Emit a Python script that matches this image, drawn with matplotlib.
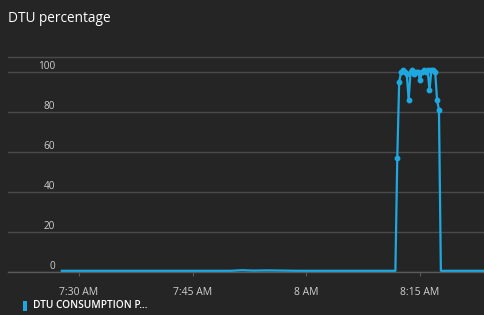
import matplotlib
matplotlib.use("Agg")
import matplotlib.pyplot as plt
import matplotlib.transforms as mtransforms
import matplotlib.patches as mpatches

# ---- data ----
base_times = ["7:27:45", "7:30:00", "7:33:00", "7:36:00", "7:39:00", "7:42:00", "7:45:00",
              "7:48:00", "7:50:00", "7:51:30", "7:53:00", "7:55:00", "7:57:00", "7:59:00",
              "8:02:00", "8:05:00", "8:08:00", "8:10:00", "8:11:45"]
base_values = [0.6, 0.6, 0.6, 0.6, 0.6, 0.6, 0.6,
               0.6, 0.6, 0.9, 0.7, 0.8, 0.7, 0.6,
               0.6, 0.6, 0.6, 0.6, 0.6]

peak_times = ["8:12:00", "8:12:15", "8:12:30", "8:12:45", "8:13:00", "8:13:15", "8:13:30",
              "8:13:45", "8:14:00", "8:14:15", "8:14:30", "8:14:45", "8:15:00", "8:15:15",
              "8:15:30", "8:15:45", "8:16:00", "8:16:15", "8:16:30", "8:16:45", "8:17:00",
              "8:17:15", "8:17:30"]
peak_values = [57, 95, 100, 101, 100, 99, 86,
               100, 101, 99, 100, 100, 96, 100,
               101, 100, 101, 91, 101, 101, 100,
               86, 81]

tail_times = ["8:17:45", "8:19:00", "8:21:00", "8:23:30"]
tail_values = [0.6, 0.6, 0.6, 0.6]

y_ticks = [0, 20, 40, 60, 80, 100]
x_tick_times = ["7:30:00", "7:45:00", "8:00:00", "8:15:00"]
x_tick_labels = ["7:30 AM", "7:45 AM", "8 AM", "8:15 AM"]
title = "DTU percentage"
legend_label = "DTU CONSUMPTION P..."


def to_min(t):
    h, m, s = (int(v) for v in t.split(":"))
    return (h - 7) * 60 + m + s / 60.0


times = [to_min(t) for t in base_times + peak_times + tail_times]
values = base_values + peak_values + tail_values
peak_x = [to_min(t) for t in peak_times]

# ---- style ----
BG = "#252525"
GRID = "#4a4a4a"
TXT = "#cfcfcf"
LINE = "#1fa8e0"
FONT = "Open Sans"

W, H = 484, 315
fig = plt.figure(figsize=(W / 100, H / 100), dpi=100, facecolor=BG)
ax = fig.add_axes([8 / W, (H - 272) / H, (W - 8) / W, (272 - 57) / H], facecolor=BG)

ax.plot(times, values, color=LINE, lw=1.6, solid_joinstyle="round", zorder=3)
ax.plot(peak_x, peak_values, "o", color=LINE, ms=3.2, zorder=4)

ax.set_xlim(20.65, 83.44)
ax.set_ylim(0, 107.5)

for s in ["left", "right"]:
    ax.spines[s].set_visible(False)
ax.spines["top"].set_color(GRID)
ax.spines["bottom"].set_color("#5a5a5a")
ax.spines["top"].set_linewidth(1)
ax.spines["bottom"].set_linewidth(1)

ax.set_yticks(y_ticks)
ax.yaxis.grid(True, color=GRID, lw=1)
ax.tick_params(axis="y", length=0, labelleft=False)

# y labels sitting above the grid lines
trans = mtransforms.blended_transform_factory(ax.transAxes, ax.transData)
off = mtransforms.ScaledTranslation(0, 3 / 100, fig.dpi_scale_trans)
for v in y_ticks:
    ax.text((55 - 8) / (W - 8), v, str(v), transform=trans + off, ha="right", va="baseline",
            color=TXT, fontsize=7.2, family=FONT)

ax.set_xticks([to_min(t) for t in x_tick_times])
ax.set_xticklabels(x_tick_labels)
ax.tick_params(axis="x", length=3, width=0.8, color="#5a5a5a", colors=TXT, pad=8, labelsize=7.5)
for lbl in ax.get_xticklabels():
    lbl.set_family(FONT)
    lbl.set_color(TXT)

fig.text(8 / W, 1 - 19 / H, title, color="white", fontsize=9.8, family=FONT, va="center", ha="left")

fig.patches.append(mpatches.Rectangle((23 / W, 1 - 311 / H), 4 / W, 10 / H, transform=fig.transFigure,
                                      facecolor=LINE, edgecolor="none"))
fig.text(33 / W, 1 - 306 / H, legend_label, color="white", fontsize=7.3, family=FONT,
         va="center", ha="left", fontweight="semibold")

fig.savefig("out.png", dpi=100, facecolor=BG)
